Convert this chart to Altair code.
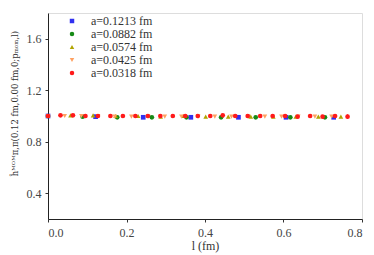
import altair as alt
import pandas as pd

labels = ["a=0.1213 fm", "a=0.0882 fm", "a=0.0574 fm", "a=0.0425 fm", "a=0.0318 fm"]
colors = ["#3030f0", "#168a16", "#b0a400", "#ffa060", "#ff1a1a"]
shapes = ["square", "circle", "triangle-up", "triangle-down", "circle"]

L_blue = [0.0, 0.1213, 0.2426, 0.3639, 0.4852, 0.6065, 0.7278]
y_blue = [1.0, 0.995, 0.99, 0.99, 0.99, 0.99, 0.99]

L_green = [0.0, 0.0882, 0.1764, 0.2646, 0.3528, 0.441, 0.5292, 0.6174, 0.7056]
y_green = [1.0, 0.995, 0.99, 0.99, 0.99, 0.99, 0.99, 0.99, 0.99]

L_olive = [0.0, 0.0574, 0.1148, 0.1722, 0.2296, 0.287, 0.3444, 0.4018, 0.4592,
           0.5166, 0.574, 0.6314, 0.6888, 0.7462]
y_olive = [1.0, 1.005, 1.005, 1.0, 1.0, 0.995, 1.0, 0.995, 0.995, 0.995, 0.995,
           0.995, 0.995, 0.995]

L_orange = [0.0, 0.0425, 0.085, 0.1275, 0.17, 0.2125, 0.255, 0.2975, 0.34, 0.3825,
            0.425, 0.4675, 0.51, 0.5525, 0.595, 0.6375, 0.68, 0.7225]
y_orange = [1.0, 1.0, 1.0, 1.0, 0.995, 0.995, 0.995, 0.995, 0.995, 0.995, 0.995,
            0.995, 0.995, 0.995, 0.995, 0.995, 0.995, 0.995]

L_red = [0.0, 0.0318, 0.0636, 0.0954, 0.1272, 0.159, 0.1908, 0.2226, 0.2544, 0.2862,
         0.318, 0.3498, 0.3816, 0.4134, 0.4452, 0.477, 0.5088, 0.5406, 0.5724, 0.6042,
         0.636, 0.6678, 0.6996, 0.7314, 0.7632]
y_red = [1.0, 1.005, 1.005, 1.0, 1.0, 1.0, 1.0, 1.0, 1.0, 1.0, 1.0, 1.0, 1.0, 1.0,
         1.005, 1.0, 1.0, 1.0, 1.0, 1.0, 0.995, 1.0, 0.995, 1.0, 0.995]
e_red = [0.001, 0.001, 0.001, 0.001, 0.001, 0.001, 0.002, 0.002, 0.002, 0.002, 0.002,
         0.003, 0.003, 0.003, 0.003, 0.004, 0.004, 0.005, 0.006, 0.007, 0.008, 0.01,
         0.012, 0.015, 0.018]

rows = []
for lab, Ls, ys in zip(labels, [L_blue, L_green, L_olive, L_orange, L_red],
                       [y_blue, y_green, y_olive, y_orange, y_red]):
    for i, (l, v) in enumerate(zip(Ls, ys)):
        e = e_red[i] if lab == labels[4] else 0.002
        rows.append({"series": lab, "L": l, "y": v, "lo": v - e, "hi": v + e})
df = pd.DataFrame(rows)
df["order"] = df["series"].map({s: i for i, s in enumerate(labels)})

font = "Liberation Serif"
xs = alt.Scale(domain=[0, 0.8], nice=False)
ys_ = alt.Scale(domain=[0.2, 1.8], nice=False)
cscale = alt.Scale(domain=labels, range=colors)
sscale = alt.Scale(domain=labels, range=shapes)

leg = alt.Legend(title=None, orient="none", legendX=18, legendY=2,
                 labelFont=font, labelFontSize=12, labelColor="#333",
                 symbolSize=20, labelOffset=13, rowPadding=1, padding=0,
                 symbolStrokeWidth=0)

x_axis = alt.Axis(values=[0, 0.2, 0.4, 0.6, 0.8], format=".1f", grid=False,
                  title="l (fm)", titleFont=font, titleFontSize=12,
                  titleFontWeight="normal", titleColor="#333", titlePadding=2,
                  labelFont=font, labelFontSize=12, labelColor="#444",
                  tickSize=3, tickColor="#333", domainColor="#222", labelPadding=5)
y_axis = alt.Axis(values=[0.4, 0.8, 1.2, 1.6], format=".1f", grid=False,
                  title="ĥᴹᴼᴹπ,π(0.12 fm,0.00 fm,0;pₘₒₘ,l)", titleFont="DejaVu Serif",
                  titleFontSize=8.5, titleFontWeight="normal", titleColor="#333",
                  titleX=-29, titleY=90,
                  labelFont=font, labelFontSize=12, labelColor="#444",
                  tickSize=3, tickColor="#333", domainColor="#222", labelPadding=4)

base = alt.Chart(df)

err = base.mark_rule(strokeWidth=1).encode(
    x=alt.X("L:Q", scale=xs, axis=x_axis),
    y=alt.Y("lo:Q", scale=ys_, axis=y_axis),
    y2="hi:Q",
    color=alt.Color("series:N", scale=cscale, legend=leg),
)

pts = base.mark_point(filled=True, size=22, opacity=1).encode(
    x=alt.X("L:Q", scale=xs),
    y=alt.Y("y:Q", scale=ys_),
    color=alt.Color("series:N", scale=cscale, legend=leg),
    shape=alt.Shape("series:N", scale=sscale, legend=leg),
    order=alt.Order("order:Q"),
)

chart = alt.layer(err, pts).properties(
    width=314, height=206,
    autosize=alt.AutoSizeParams(type="none"),
    padding={"left": 40, "top": 5, "right": 4, "bottom": 36},
).configure_view(stroke="#222", strokeWidth=1).configure(background="white")

chart.save("out.html", embed_options={"renderer": "svg", "actions": False})
